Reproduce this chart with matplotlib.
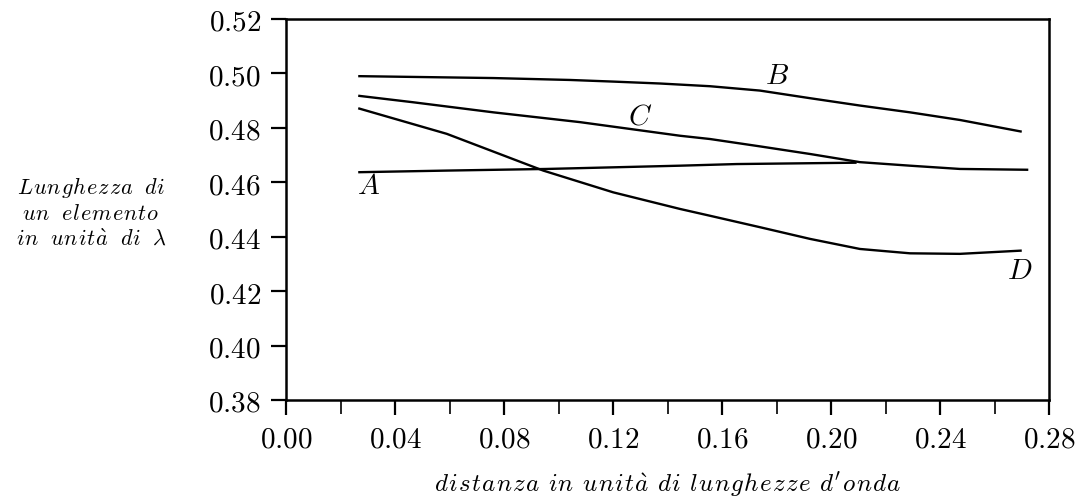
import matplotlib
matplotlib.use("Agg")
import matplotlib.pyplot as plt
from matplotlib.ticker import MultipleLocator, FuncFormatter

plt.rcParams['mathtext.fontset'] = 'cm'
plt.rcParams['font.family'] = ['DejaVu Serif']

# Curve data (distance in wavelengths, element length in wavelengths)
xA = [0.0265, 0.0590, 0.0957, 0.1446, 0.1654, 0.2094]
yA = [0.4637, 0.4643, 0.4649, 0.4661, 0.4667, 0.4672]

xB = [0.0265, 0.0761, 0.1042, 0.1201, 0.1372, 0.1556, 0.1739, 0.1923, 0.2106, 0.2290, 0.2473, 0.2700]
yB = [0.4990, 0.4983, 0.4976, 0.4970, 0.4963, 0.4953, 0.4937, 0.4909, 0.4882, 0.4857, 0.4829, 0.4786]

xC = [0.0265, 0.0467, 0.0761, 0.1079, 0.1446, 0.1556, 0.1739, 0.1923, 0.2106, 0.2290, 0.2473, 0.2724]
yC = [0.4918, 0.4894, 0.4857, 0.4821, 0.4771, 0.4759, 0.4732, 0.4704, 0.4674, 0.4661, 0.4649, 0.4646]

xD = [0.0265, 0.0590, 0.0944, 0.1201, 0.1446, 0.1556, 0.1739, 0.1923, 0.2106, 0.2290, 0.2473, 0.2700]
yD = [0.4872, 0.4778, 0.4643, 0.4563, 0.4502, 0.4477, 0.4435, 0.4392, 0.4355, 0.4339, 0.4337, 0.4349]

curve_names = ['A', 'B', 'C', 'D']
label_x = [0.0301, 0.1802, 0.1299, 0.2693]
label_y = [0.4590, 0.4994, 0.4844, 0.4278]

x_label_text = "distanza in unità di lunghezze d'onda"
y_label_lines = ["Lunghezza di", "un elemento", "in unità di λ"]


def spaced_math(text, gap, wordgap):
    special = {'à': r'\grave{a}', 'λ': r'\lambda', "'": "'"}
    words = []
    for w in text.split(' '):
        words.append(gap.join(special.get(c, c) for c in w))
    return '$' + wordgap.join(words) + '$'


fig = plt.figure(figsize=(10.79, 5.02), dpi=100)
ax = fig.add_axes([286/1079, 1 - 401/502, (1049-286)/1079, (401-20)/502])

for xs, ys in [(xA, yA), (xB, yB), (xC, yC), (xD, yD)]:
    ax.plot(xs, ys, color='black', lw=1.7, solid_capstyle='butt')

for name, lx, ly in zip(curve_names, label_x, label_y):
    ax.text(lx, ly, f'${name}$', fontsize=21, ha='center', va='center')

ax.set_xlim(0.0, 0.28)
ax.set_ylim(0.38, 0.52)
ax.xaxis.set_major_locator(MultipleLocator(0.04))
ax.xaxis.set_minor_locator(MultipleLocator(0.02))
ax.yaxis.set_major_locator(MultipleLocator(0.02))
fmt = FuncFormatter(lambda v, p: f'${v:.2f}$')
ax.xaxis.set_major_formatter(fmt)
ax.yaxis.set_major_formatter(fmt)

ax.tick_params(axis='both', which='major', direction='out', length=11, width=1.6,
               labelsize=21, pad=7, color='black')
ax.tick_params(axis='x', which='minor', direction='out', length=10, width=1.2)

for s in ax.spines.values():
    s.set_linewidth(1.8)
    s.set_color('black')

fig.text(668/1079, 1 - 485/502,
         spaced_math(x_label_text, r'\hspace{0.06}', r'\ \hspace{0.1}'),
         fontsize=18, ha='center', va='center')
fig.text(91/1079, 1 - 212/502,
         '\n'.join(spaced_math(l, r'\hspace{0.05}', r'\ \hspace{0.3}') for l in y_label_lines),
         fontsize=16, ha='center', va='center', multialignment='center',
         linespacing=1.17)

fig.savefig('out.png', dpi=100)
